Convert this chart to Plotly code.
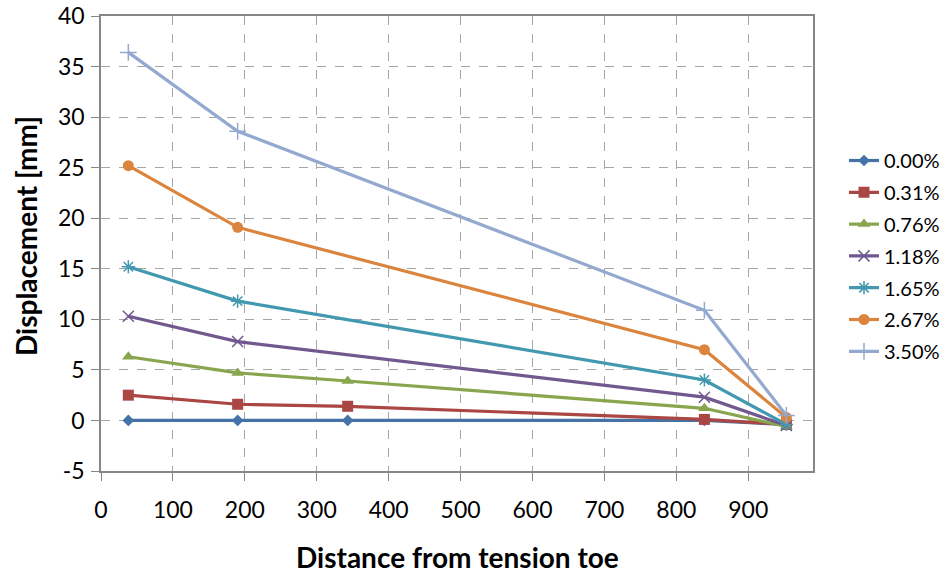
import plotly.graph_objects as go

series_names = ["0.00%", "0.31%", "0.76%", "1.18%", "1.65%", "2.67%", "3.50%"]
x_0_00 = [38, 190, 343, 839, 953]
y_0_00 = [0.0, 0.0, 0.0, 0.0, -0.4]
x_0_31 = [38, 190, 343, 839, 953]
y_0_31 = [2.5, 1.6, 1.4, 0.1, -0.4]
x_0_76 = [38, 190, 343, 839, 953]
y_0_76 = [6.3, 4.7, 3.9, 1.2, -0.6]
x_1_18 = [38, 190, 839, 953]
y_1_18 = [10.3, 7.8, 2.3, -0.5]
x_1_65 = [38, 190, 839, 953]
y_1_65 = [15.2, 11.8, 4.0, -0.4]
x_2_67 = [38, 190, 839, 953]
y_2_67 = [25.2, 19.1, 7.0, 0.3]
x_3_50 = [38, 190, 839, 953]
y_3_50 = [36.4, 28.6, 10.9, 0.5]

x_tick_vals = [0, 100, 200, 300, 400, 500, 600, 700, 800, 900]
y_tick_vals = [-5, 0, 5, 10, 15, 20, 25, 30, 35, 40]
y_tick_text = ["-5", "0", "5", "10", "15", "20", "25", "30", "35", "40"]

xs = [x_0_00, x_0_31, x_0_76, x_1_18, x_1_65, x_2_67, x_3_50]
ys = [y_0_00, y_0_31, y_0_76, y_1_18, y_1_65, y_2_67, y_3_50]
colors = ["#4572A7", "#AA4643", "#89A54E", "#71588F", "#4198AF", "#DB843D", "#93A9CF"]
symbols = ["diamond", "square", "triangle-up", "x-thin", "asterisk", "circle", "cross-thin"]
sizes = [9, 11, 11, 11, 11, 11, 12]

FONT = "Lato, Calibri, sans-serif"
W, H = 941, 576

fig = go.Figure()
legend_layouts = {}
for i, (name, x, y, c, s, sz) in enumerate(zip(series_names, xs, ys, colors, symbols, sizes)):
    thin = s in ("x-thin", "asterisk", "cross-thin")
    lg = "legend" if i == 0 else f"legend{i + 1}"
    fig.add_trace(go.Scatter(
        x=x, y=y, name=name, mode="lines+markers", legend=lg,
        line=dict(color=c, width=3.2),
        marker=dict(symbol=s, size=sz, color=c,
                    line=dict(color=c, width=1.5 if thin else 0)),
    ))
    ypix = 160.5 + 31.8 * i
    legend_layouts[lg] = dict(
        xref="container", yref="container",
        x=844 / W, y=(H - ypix) / H, xanchor="left", yanchor="middle",
        font=dict(family=FONT, size=20, color="#000"),
        itemwidth=30, bgcolor="rgba(0,0,0,0)", borderwidth=0,
    )

axis_common = dict(showgrid=True, gridcolor="#A6A6A6", griddash="dash", gridwidth=1,
                   zeroline=False, showline=True, linecolor="#868686", linewidth=1.5,
                   ticks="outside", ticklen=8, tickcolor="#868686", automargin=False,
                   mirror=True, tickfont=dict(family=FONT, size=23, color="#000000"))

fig.update_layout(
    width=W, height=H,
    margin=dict(l=101, r=128, t=16, b=105, autoexpand=False),
    paper_bgcolor="white", plot_bgcolor="white",
    xaxis=dict(range=[0, 990], tickvals=x_tick_vals, ticklabelstandoff=10, **axis_common),
    yaxis=dict(range=[-5, 40], tickvals=y_tick_vals, ticktext=y_tick_text, ticklabelstandoff=2, **axis_common),
    showlegend=True,
    **legend_layouts,
)

fig.add_annotation(text="<b>Distance from tension toe</b>", xref="paper", yref="paper",
                   x=0.5, y=(471 - 557) / 455, xanchor="center", yanchor="middle",
                   showarrow=False, font=dict(family=FONT, size=28, color="#000"))
fig.add_annotation(text="<b>Displacement [mm]</b>", xref="paper", yref="paper",
                   x=(26 - 101) / 712, y=(471 - 236) / 455, xanchor="center", yanchor="middle",
                   textangle=-90, showarrow=False, font=dict(family=FONT, size=28, color="#000"))

fig.write_html("out.html")
